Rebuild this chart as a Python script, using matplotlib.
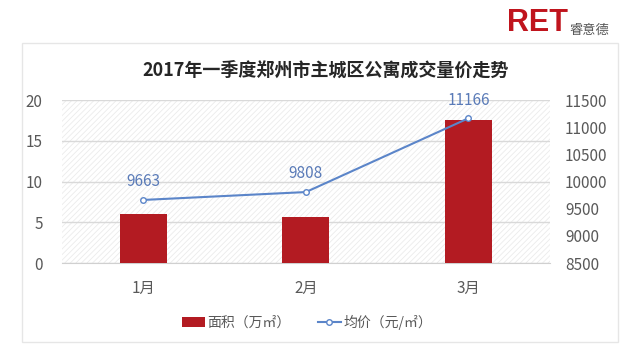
import matplotlib
matplotlib.use("Agg")
import matplotlib.pyplot as plt
import numpy as np
from matplotlib.patches import Rectangle

plt.rcParams['font.family'] = ['Noto Sans CJK SC', 'DejaVu Sans']
plt.rcParams['hatch.linewidth'] = 0.6

# Data
months = ['1月', '2月', '3月']
area = [6.0, 5.7, 17.5]            # 万㎡
price = [9663, 9808, 11166]        # 元/㎡
left_ticks = [0, 5, 10, 15, 20]
right_ticks = [8500, 9000, 9500, 10000, 10500, 11000, 11500]

bar_color = '#b31b22'
line_color = '#5b85c9'
label_color = '#5a7bb8'
tick_color = '#595959'

fig = plt.figure(figsize=(6.4, 3.6), dpi=100)

# outer frame
fig.patches.append(Rectangle((0.034, 0.05), 0.931, 0.83, transform=fig.transFigure,
                             fill=False, edgecolor='#e6e6e6', linewidth=1.0))

ax = fig.add_axes([0.097, 0.269, 0.762, 0.453])
# faint diagonal texture in the plot area
ax.add_patch(Rectangle((0, 0), 1, 1, transform=ax.transAxes, facecolor='none',
                       edgecolor='#ebebeb', hatch='//////', linewidth=0, zorder=0))
x = np.arange(len(months))
ax.bar(x, area, width=0.29, color=bar_color, zorder=3, label='面积（万㎡）')
ax.set_xlim(-0.5, 2.5)
ax.set_ylim(left_ticks[0], left_ticks[-1])
ax.set_yticks(left_ticks)
ax.yaxis.grid(True, color='#d9d9d9', linewidth=1.0, zorder=1)
ax.set_axisbelow(True)
ax.set_xticks(x)
ax.set_xticklabels(months)
for s in ['left', 'right', 'top']:
    ax.spines[s].set_visible(False)
ax.spines['bottom'].set_color('#d0d0d0')
ax.tick_params(axis='both', length=0, labelsize=11, colors=tick_color)
ax.tick_params(axis='x', pad=12)
ax.tick_params(axis='y', pad=14)

ax2 = ax.twinx()
ax2.plot(x, price, color=line_color, linewidth=1.5, marker='o', markersize=4,
         markerfacecolor='white', markeredgecolor=line_color, zorder=4,
         label='均价（元/㎡）')
ax2.set_ylim(right_ticks[0], right_ticks[-1])
ax2.set_yticks(right_ticks)
for s in ['left', 'right', 'top', 'bottom']:
    ax2.spines[s].set_visible(False)
ax2.tick_params(axis='y', length=0, labelsize=11, colors=tick_color, pad=11)
for xi, p in zip(x, price):
    ax2.annotate(str(p), (xi, p), xytext=(0, 7), textcoords='offset points',
                 ha='center', va='bottom', fontsize=11, color=label_color)

fig.text(0.508, 0.806, '2017年一季度郑州市主城区公寓成交量价走势', ha='center', va='center',
         fontsize=13, fontweight='bold', color='#262626')

h1, l1 = ax.get_legend_handles_labels()
h2, l2 = ax2.get_legend_handles_labels()
fig.legend(h1 + h2, l1 + l2, loc='center', bbox_to_anchor=(0.48, 0.105), ncol=2,
           frameon=False, fontsize=10, handlelength=1.6, handletextpad=0.2,
           columnspacing=2.0, labelcolor=tick_color)

# logo
fig.text(0.887, 0.935, 'RET', ha='right', va='center', fontsize=22, fontweight='bold',
         color='#c0141d', family='Liberation Sans')
fig.text(0.89, 0.915, '睿意德', ha='left', va='center', fontsize=9.5, color='#555555')

fig.savefig('out.png', dpi=100)
